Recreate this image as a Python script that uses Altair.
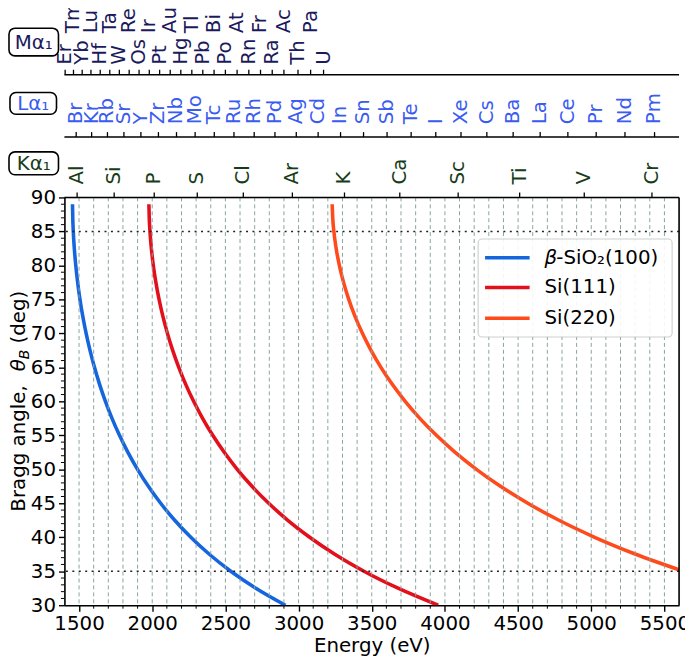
import altair as alt
import pandas as pd

# ---------------- data ----------------
angles = [89, 87, 85, 82.5, 80, 77.5, 75, 72.5, 70, 67.5, 65, 62.5, 60,
          57.5, 55, 52.5, 50, 47.5, 45, 42.5, 40, 37.5, 35, 32.5, 30]
sio2_energy = [1455.2, 1457.0, 1460.6, 1467.6, 1477.5, 1490.3, 1506.3, 1525.6,
               1548.4, 1574.9, 1605.4, 1640.3, 1680.1, 1725.2, 1776.2, 1834.0,
               1899.4, 1973.5, 2057.7, 2153.7, 2263.6, 2390.1, 2536.7, 2708.0, 2910.0]
si111_energy = [1977.3, 1979.7, 1984.6, 1994.1, 2007.5, 2025.0, 2046.7, 2072.9,
                2103.9, 2139.9, 2181.4, 2228.8, 2282.8, 2344.1, 2413.5, 2492.0,
                2580.8, 2681.5, 2795.9, 2926.3, 3075.7, 3247.6, 3446.8, 3679.5, 3954.0]
si220_angles = [89, 87, 85, 82.5, 80, 77.5, 75, 72.5, 70, 67.5, 65, 62.5, 60,
                57.5, 55, 52.5, 50, 47.5, 45, 42.5, 40, 37.5, 35]
si220_energy = [3229.5, 3233.4, 3241.3, 3256.9, 3278.8, 3307.4, 3342.9, 3385.7,
                3436.2, 3495.0, 3562.8, 3640.3, 3728.5, 3828.6, 3941.9, 4070.1,
                4215.2, 4379.6, 4566.5, 4779.5, 5023.4, 5304.2, 5629.5]

crystals = ["β-SiO₂(100)", "Si(111)", "Si(220)"]
crystal_colors = ["#1565dc", "#e3101c", "#ff4a1c"]

k_names = ["Al", "Si", "P", "S", "Cl", "Ar", "K", "Ca", "Sc", "Ti", "V", "Cr"]
k_energy = [1486.7, 1740.0, 2013.7, 2307.8, 2622.4, 2957.7, 3313.8, 3691.7,
            4090.6, 4510.8, 4952.2, 5414.7]
l_names = ["Br", "Kr", "Rb", "Sr", "Y", "Zr", "Nb", "Mo", "Tc", "Ru", "Rh", "Pd",
           "Ag", "Cd", "In", "Sn", "Sb", "Te", "I", "Xe", "Cs", "Ba", "La", "Ce",
           "Pr", "Nd", "Pm"]
l_energy = [1480.4, 1586.0, 1694.1, 1806.6, 1922.6, 2042.4, 2165.9, 2293.2,
            2424.0, 2558.6, 2696.7, 2838.6, 2984.3, 3133.7, 3286.9, 3444.0,
            3604.7, 3769.3, 3937.6, 4109.9, 4286.5, 4466.3, 4651.0, 4840.2,
            5033.7, 5230.4, 5432.5]
m_names = ["Er", "Tm", "Yb", "Lu", "Hf", "Ta", "W", "Re", "Os", "Ir", "Pt", "Au",
           "Hg", "Tl", "Pb", "Bi", "Po", "At", "Rn", "Fr", "Ra", "Ac", "Th", "Pa", "U"]
m_energy = [1405.0, 1462.0, 1521.4, 1581.3, 1644.6, 1710.0, 1775.4, 1842.5,
            1910.2, 1979.9, 2050.5, 2122.9, 2195.3, 2270.6, 2345.5, 2422.6,
            2500.0, 2580.0, 2660.0, 2740.0, 2820.0, 2900.0, 2996.1, 3082.3, 3170.8]

x_major = [1500, 2000, 2500, 3000, 3500, 4000, 4500, 5000, 5500]
x_minor = [e for e in range(1500, 5600, 100) if e % 500 != 0]
x_grid = list(range(1500, 5600, 100))
y_major = [30, 35, 40, 45, 50, 55, 60, 65, 70, 75, 80, 85, 90]
y_minor = [d for d in range(31, 90) if d % 5 != 0]
h_dotted = [35, 85]

# ---------------- layout ----------------
W, H = 621, 412
FONT = "DejaVu Sans"
FS = 20
K_COL, L_COL, M_COL = "#163c18", "#3a5cf0", "#1a1a5c"

xs = alt.Scale(domain=[1400, 5600], nice=False, zero=False)
ys = alt.Scale(domain=[30, 90], nice=False, zero=False)

x_axis = alt.Axis(values=x_major, title="Energy (eV)", grid=False,
                  labelFontSize=FS, titleFontSize=FS, labelFont=FONT,
                  titleFont=FONT, titleFontWeight="normal",
                  labelColor="black", titleColor="black",
                  domainColor="black", domainWidth=1.6,
                  tickColor="black", tickWidth=1.4, tickSize=6,
                  labelPadding=3, titlePadding=2, format="d",
                  labelFlush=False, labelOverlap=False)
y_axis = alt.Axis(values=y_major, title="", grid=False,
                  labelFontSize=FS, labelFont=FONT, labelColor="black",
                  domainColor="black", domainWidth=1.6,
                  tickColor="black", tickWidth=1.4, tickSize=6,
                  labelPadding=3, labelFlush=False, labelOverlap=False)


def X(field="energy"):
    return alt.X(f"{field}:Q", scale=xs, axis=x_axis)


def Y(field="angle"):
    return alt.Y(f"{field}:Q", scale=ys, axis=y_axis)


rows = []
for name, es, ans in [(crystals[0], sio2_energy, angles),
                      (crystals[1], si111_energy, angles),
                      (crystals[2], si220_energy, si220_angles)]:
    for e, a in zip(es, ans):
        rows.append({"crystal": name, "energy": e, "angle": a})
curve_df = pd.DataFrame(rows)

one = pd.DataFrame({"a": [0]})

curves = alt.Chart(curve_df).mark_line(
    strokeWidth=3.6, clip=True, interpolate="monotone"
).encode(
    x=X(), y=Y(),
    color=alt.Color("crystal:N", scale=alt.Scale(domain=crystals, range=crystal_colors),
                    legend=None),
    order=alt.Order("energy:Q"),
)

grid = alt.Chart(pd.DataFrame({"energy": x_grid})).mark_rule(
    color="#8ba2a2", strokeDash=[4, 3], strokeWidth=1
).encode(x=X())

hdots = alt.Chart(pd.DataFrame({"angle": h_dotted})).mark_rule(
    color="#222222", strokeDash=[2, 4.5], strokeWidth=1.6
).encode(y=Y())

xminor = alt.Chart(pd.DataFrame({"energy": x_minor})).mark_rule(
    color="black", strokeWidth=1).encode(
    x=X(), y=alt.value(H), y2=alt.value(H + 3.5))
yminor = alt.Chart(pd.DataFrame({"angle": y_minor})).mark_rule(
    color="black", strokeWidth=1).encode(
    y=Y(), x=alt.value(0), x2=alt.value(-3.5))

frame_right = alt.Chart(one).mark_rule(color="black", strokeWidth=1.6).encode(
    x=alt.value(W), y=alt.value(0), y2=alt.value(H))

layers = [curves, grid, hdots, xminor, yminor, frame_right]

# ---- top element axes ----
def top_axis(names, energies, axis_y, color, label_ys):
    df = pd.DataFrame({"energy": energies, "n": names})
    out = [
        alt.Chart(one).mark_rule(color="black", strokeWidth=1.6).encode(
            x=alt.value(0), x2=alt.value(W), y=alt.value(axis_y)),
        alt.Chart(df).mark_rule(color="black", strokeWidth=1.3).encode(
            x=X(), y=alt.value(axis_y), y2=alt.value(axis_y - 5)),
    ]
    for k, ly in enumerate(label_ys):
        sub = df.iloc[k::len(label_ys)]
        out.append(alt.Chart(sub).mark_text(
            angle=270, align="left", baseline="middle", font=FONT, fontSize=FS,
            color=color).encode(x=X(), y=alt.value(ly), text="n:N"))
    return out

layers += top_axis(k_names, k_energy, 0, K_COL, [-13])
layers += top_axis(l_names, l_energy, -61, L_COL, [-74])
layers += top_axis(m_names, m_energy, -124, M_COL, [-134, -166])

# ---- boxed line labels ----
def boxed(label, x1, x2, y1, y2, color):
    box = alt.Chart(one).mark_rect(
        fill="white", stroke="black", strokeWidth=1.6, cornerRadius=6).encode(
        x=alt.value(x1), x2=alt.value(x2), y=alt.value(y1), y2=alt.value(y2))
    txt = alt.Chart(pd.DataFrame({"t": [label]})).mark_text(
        align="center", baseline="middle", font=FONT, fontSize=FS, color=color).encode(
        x=alt.value((x1 + x2) / 2), y=alt.value((y1 + y2) / 2 + 1), text="t:N")
    return [box, txt]

layers += boxed("Mα₁", -56, -6, -171, -143, M_COL)
layers += boxed("Lα₁", -55, -8, -106, -84, L_COL)
layers += boxed("Kα₁", -56, -6, -46, -23, K_COL)

# ---- y-axis title (Bragg angle, θ_B (deg)) ----
def vtext(t, x, y, size=FS, style="normal"):
    return alt.Chart(pd.DataFrame({"t": [t]})).mark_text(
        angle=270, align="left", baseline="alphabetic", font=FONT,
        fontSize=size, fontStyle=style, color="black").encode(
        x=alt.value(x), y=alt.value(y), text="t:N")

TX = -40
layers += [vtext("Bragg angle,", TX, 317.5),
           vtext("θ", TX, 175.5, style="italic"),
           vtext("B", TX + 4, 163.5, size=14, style="italic"),
           vtext("(deg)", TX, 147.5)]

# ---- legend ----
leg_box = alt.Chart(one).mark_rect(
    fill="white", stroke="#cccccc", strokeWidth=1.2, cornerRadius=4, opacity=0.9).encode(
    x=alt.value(418), x2=alt.value(614), y=alt.value(42), y2=alt.value(141))
layers.append(leg_box)
leg_rows = [61, 91, 122]
for name, col, ry in zip(crystals, crystal_colors, leg_rows):
    layers.append(alt.Chart(one).mark_rule(color=col, strokeWidth=3.6).encode(
        x=alt.value(425), x2=alt.value(470), y=alt.value(ry)))
layers.append(alt.Chart(pd.DataFrame({"t": ["β"]})).mark_text(
    align="left", baseline="middle", font=FONT, fontSize=FS, fontStyle="italic",
    color="black").encode(x=alt.value(485), y=alt.value(leg_rows[0]), text="t:N"))
leg_txt = ["-SiO₂(100)", crystals[1], crystals[2]]
leg_x = [497, 485, 485]
for t, lx, ry in zip(leg_txt, leg_x, leg_rows):
    layers.append(alt.Chart(pd.DataFrame({"t": [t]})).mark_text(
        align="left", baseline="middle", font=FONT, fontSize=FS,
        color="black").encode(x=alt.value(lx), y=alt.value(ry), text="t:N"))

chart = alt.layer(*layers).properties(
    width=W, height=H,
    autosize=alt.AutoSizeParams(type="none"),
    padding={"left": 57, "top": 188, "right": 6, "bottom": 58},
).configure_view(stroke=None).configure(background="white")

chart.save("out.html", embed_options={"renderer": "svg", "actions": False})
